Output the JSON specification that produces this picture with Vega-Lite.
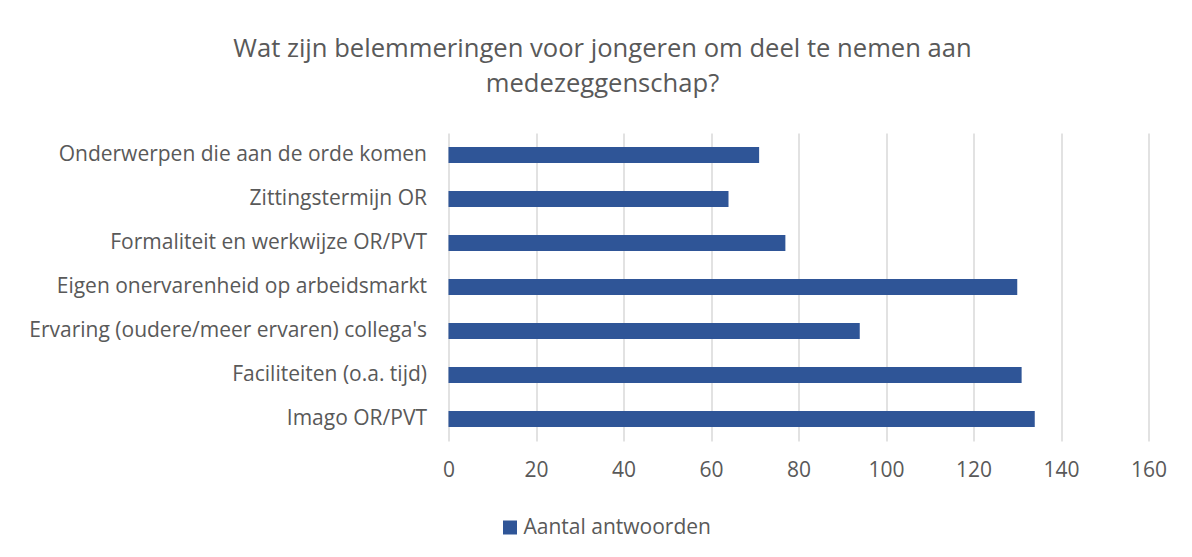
{
  "$schema": "https://vega.github.io/schema/vega-lite/v6.json",
  "autosize": {"type": "none"},
  "width": 700,
  "height": 308,
  "padding": {"left": 448.5, "top": 133, "right": 43.5, "bottom": 116},
  "background": "white",
  "title": {
    "text": ["Wat zijn belemmeringen voor jongeren om deel te nemen aan", "medezeggenschap?"],
    "anchor": "middle",
    "frame": "group",
    "dx": -196,
    "offset": 35,
    "font": "Open Sans",
    "fontSize": 25.6,
    "fontWeight": "normal",
    "color": "#595959",
    "lineHeight": 35
  },
  "data": {
    "values": [
      {"categorie": "Onderwerpen die aan de orde komen", "aantal": 71, "reeks": "Aantal antwoorden"},
      {"categorie": "Zittingstermijn OR", "aantal": 64, "reeks": "Aantal antwoorden"},
      {"categorie": "Formaliteit en werkwijze OR/PVT", "aantal": 77, "reeks": "Aantal antwoorden"},
      {"categorie": "Eigen onervarenheid op arbeidsmarkt", "aantal": 130, "reeks": "Aantal antwoorden"},
      {"categorie": "Ervaring (oudere/meer ervaren) collega's", "aantal": 94, "reeks": "Aantal antwoorden"},
      {"categorie": "Faciliteiten (o.a. tijd)", "aantal": 131, "reeks": "Aantal antwoorden"},
      {"categorie": "Imago OR/PVT", "aantal": 134, "reeks": "Aantal antwoorden"}
    ]
  },
  "mark": {"type": "bar"},
  "encoding": {
    "y": {
      "field": "categorie",
      "type": "nominal",
      "sort": null,
      "scale": {"paddingInner": 0.64, "paddingOuter": 0.32},
      "axis": {
        "title": null,
        "domain": false,
        "ticks": false,
        "grid": false,
        "labelPadding": 22,
        "labelFont": "Open Sans",
        "labelFontSize": 21,
        "labelColor": "#595959",
        "labelLimit": 500
      }
    },
    "x": {
      "field": "aantal",
      "type": "quantitative",
      "scale": {"domain": [0, 160], "nice": false},
      "axis": {
        "title": null,
        "values": [0, 20, 40, 60, 80, 100, 120, 140, 160],
        "domain": false,
        "ticks": false,
        "grid": true,
        "gridColor": "#d9d9d9",
        "gridWidth": 1.5,
        "labelPadding": 18,
        "labelFlush": false,
        "labelOverlap": false,
        "labelFont": "Open Sans",
        "labelFontSize": 21,
        "labelColor": "#595959"
      }
    },
    "color": {
      "field": "reeks",
      "type": "nominal",
      "scale": {"range": ["#2F5597"]},
      "legend": {
        "title": null,
        "orient": "none",
        "legendX": 51,
        "legendY": 384,
        "symbolType": "square",
        "symbolSize": 196,
        "symbolStrokeWidth": 0,
        "labelFont": "Open Sans",
        "labelFontSize": 21,
        "labelColor": "#595959",
        "labelOffset": 3,
        "labelLimit": 400
      }
    }
  },
  "config": {
    "view": {"stroke": null}
  }
}
